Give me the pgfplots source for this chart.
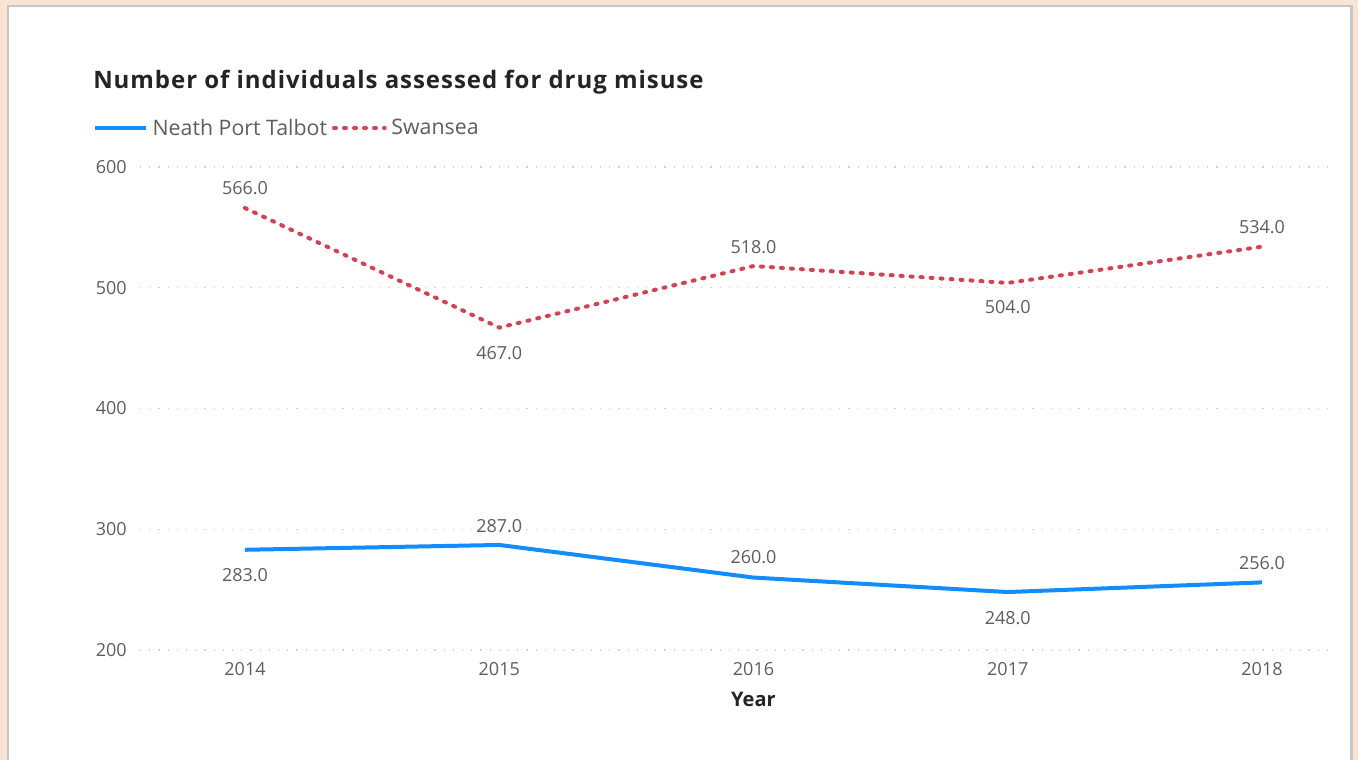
\documentclass[border=0pt]{standalone}
\usepackage{fontspec}
\setmainfont{Open Sans}
\newfontfamily\titlefont[LetterSpace=4]{Open Sans}
\usepackage{pgfplots}
\pgfplotsset{compat=1.18}
\usepackage{pgfplotstable}

\definecolor{peach}{RGB}{249,228,212}
\definecolor{npt}{RGB}{17,141,255}
\definecolor{swa}{RGB}{214,64,82}
\definecolor{txt}{RGB}{96,94,92}
\definecolor{ttl}{RGB}{37,36,35}

% year, value, vertical offset of the value label (pt)
\pgfplotstableread{
year value dy
2014 283 -19
2015 287 14.5
2016 260 15
2017 248 -19.5
2018 256 14.5
}\nptdata
\pgfplotstableread{
year value dy
2014 566 15
2015 467 -19
2016 518 14.5
2017 504 -18
2018 534 14.5
}\swadata

\begin{document}
\begin{tikzpicture}
% page background and card
\fill[peach] (0,0) rectangle (1018.5pt,-570pt);
\fill[gray!45] (5.25pt,-3.75pt) rectangle (1014.75pt,-570pt);
\fill[white] (6.375pt,-4.875pt) rectangle (1012.5pt,-570pt);

\node[anchor=west, inner sep=0pt, text=ttl, font=\titlefont\fontsize{18}{22}\selectfont\bfseries]
  at (69.75pt,-61.5pt) {Number of individuals assessed for drug misuse};

\begin{axis}[
  at={(105pt,-487.5pt)}, anchor=south west,
  scale only axis, width=892.5pt, height=362.25pt,
  xmin=2013.587, xmax=2018.2675, ymin=200, ymax=600,
  xtick={2014,2015,2016,2017,2018}, ytick={200,300,400,500,600},
  /pgf/number format/assume math mode=true,
  /pgf/number format/set thousands separator={},
  axis line style={draw=none}, major tick length=0pt,
  ymajorgrids,
  grid style={gray!35, line width=0.9pt, dash pattern=on 0.9pt off 6pt},
  tick label style={font=\fontsize{13.5}{16}\selectfont, text=txt},
  xticklabel style={anchor=center, yshift=-14.25pt, inner sep=0pt},
  yticklabel style={anchor=east, xshift=-9.75pt, inner sep=0pt},
  xlabel={Year},
  xlabel style={at={(axis description cs:0.5155,0)}, anchor=center, yshift=-36.75pt,
    font=\fontsize{15}{17}\selectfont\bfseries, text=ttl},
  clip=false,
  legend columns=-1,
  legend cell align=left,
  legend style={at={(-0.0395,1.0807)}, anchor=west, draw=none, fill=none,
    inner sep=0pt, font=\fontsize{16}{18}\selectfont, text=txt,
    nodes={inner xsep=0pt},
    /tikz/every odd column/.append style={column sep=3.5pt},
    /tikz/every even column/.append style={column sep=3.75pt}},
  legend image code/.code={\draw[#1] (0pt,0pt) -- (38pt,0pt);},
  point meta=explicit,
  nodes near coords={\pgfmathprintnumber[fixed, fixed zerofill, precision=1]{\pgfplotspointmeta}},
  visualization depends on={\thisrow{dy} \as \labdy},
  every node near coord/.append style={anchor=center, yshift=\labdy pt,
    font=\fontsize{13.5}{16}\selectfont, text=txt, inner sep=0pt},
]
\addplot[npt, line width=3pt, line join=round, no marks]
  table[x=year, y=value, meta=value] {\nptdata};
\addlegendentry{Neath Port Talbot}
\addplot[swa, line width=3pt, line cap=round, dash pattern=on 1.5pt off 6pt, no marks]
  table[x=year, y=value, meta=value] {\swadata};
\addlegendentry{Swansea}
\end{axis}
\end{tikzpicture}
\end{document}
